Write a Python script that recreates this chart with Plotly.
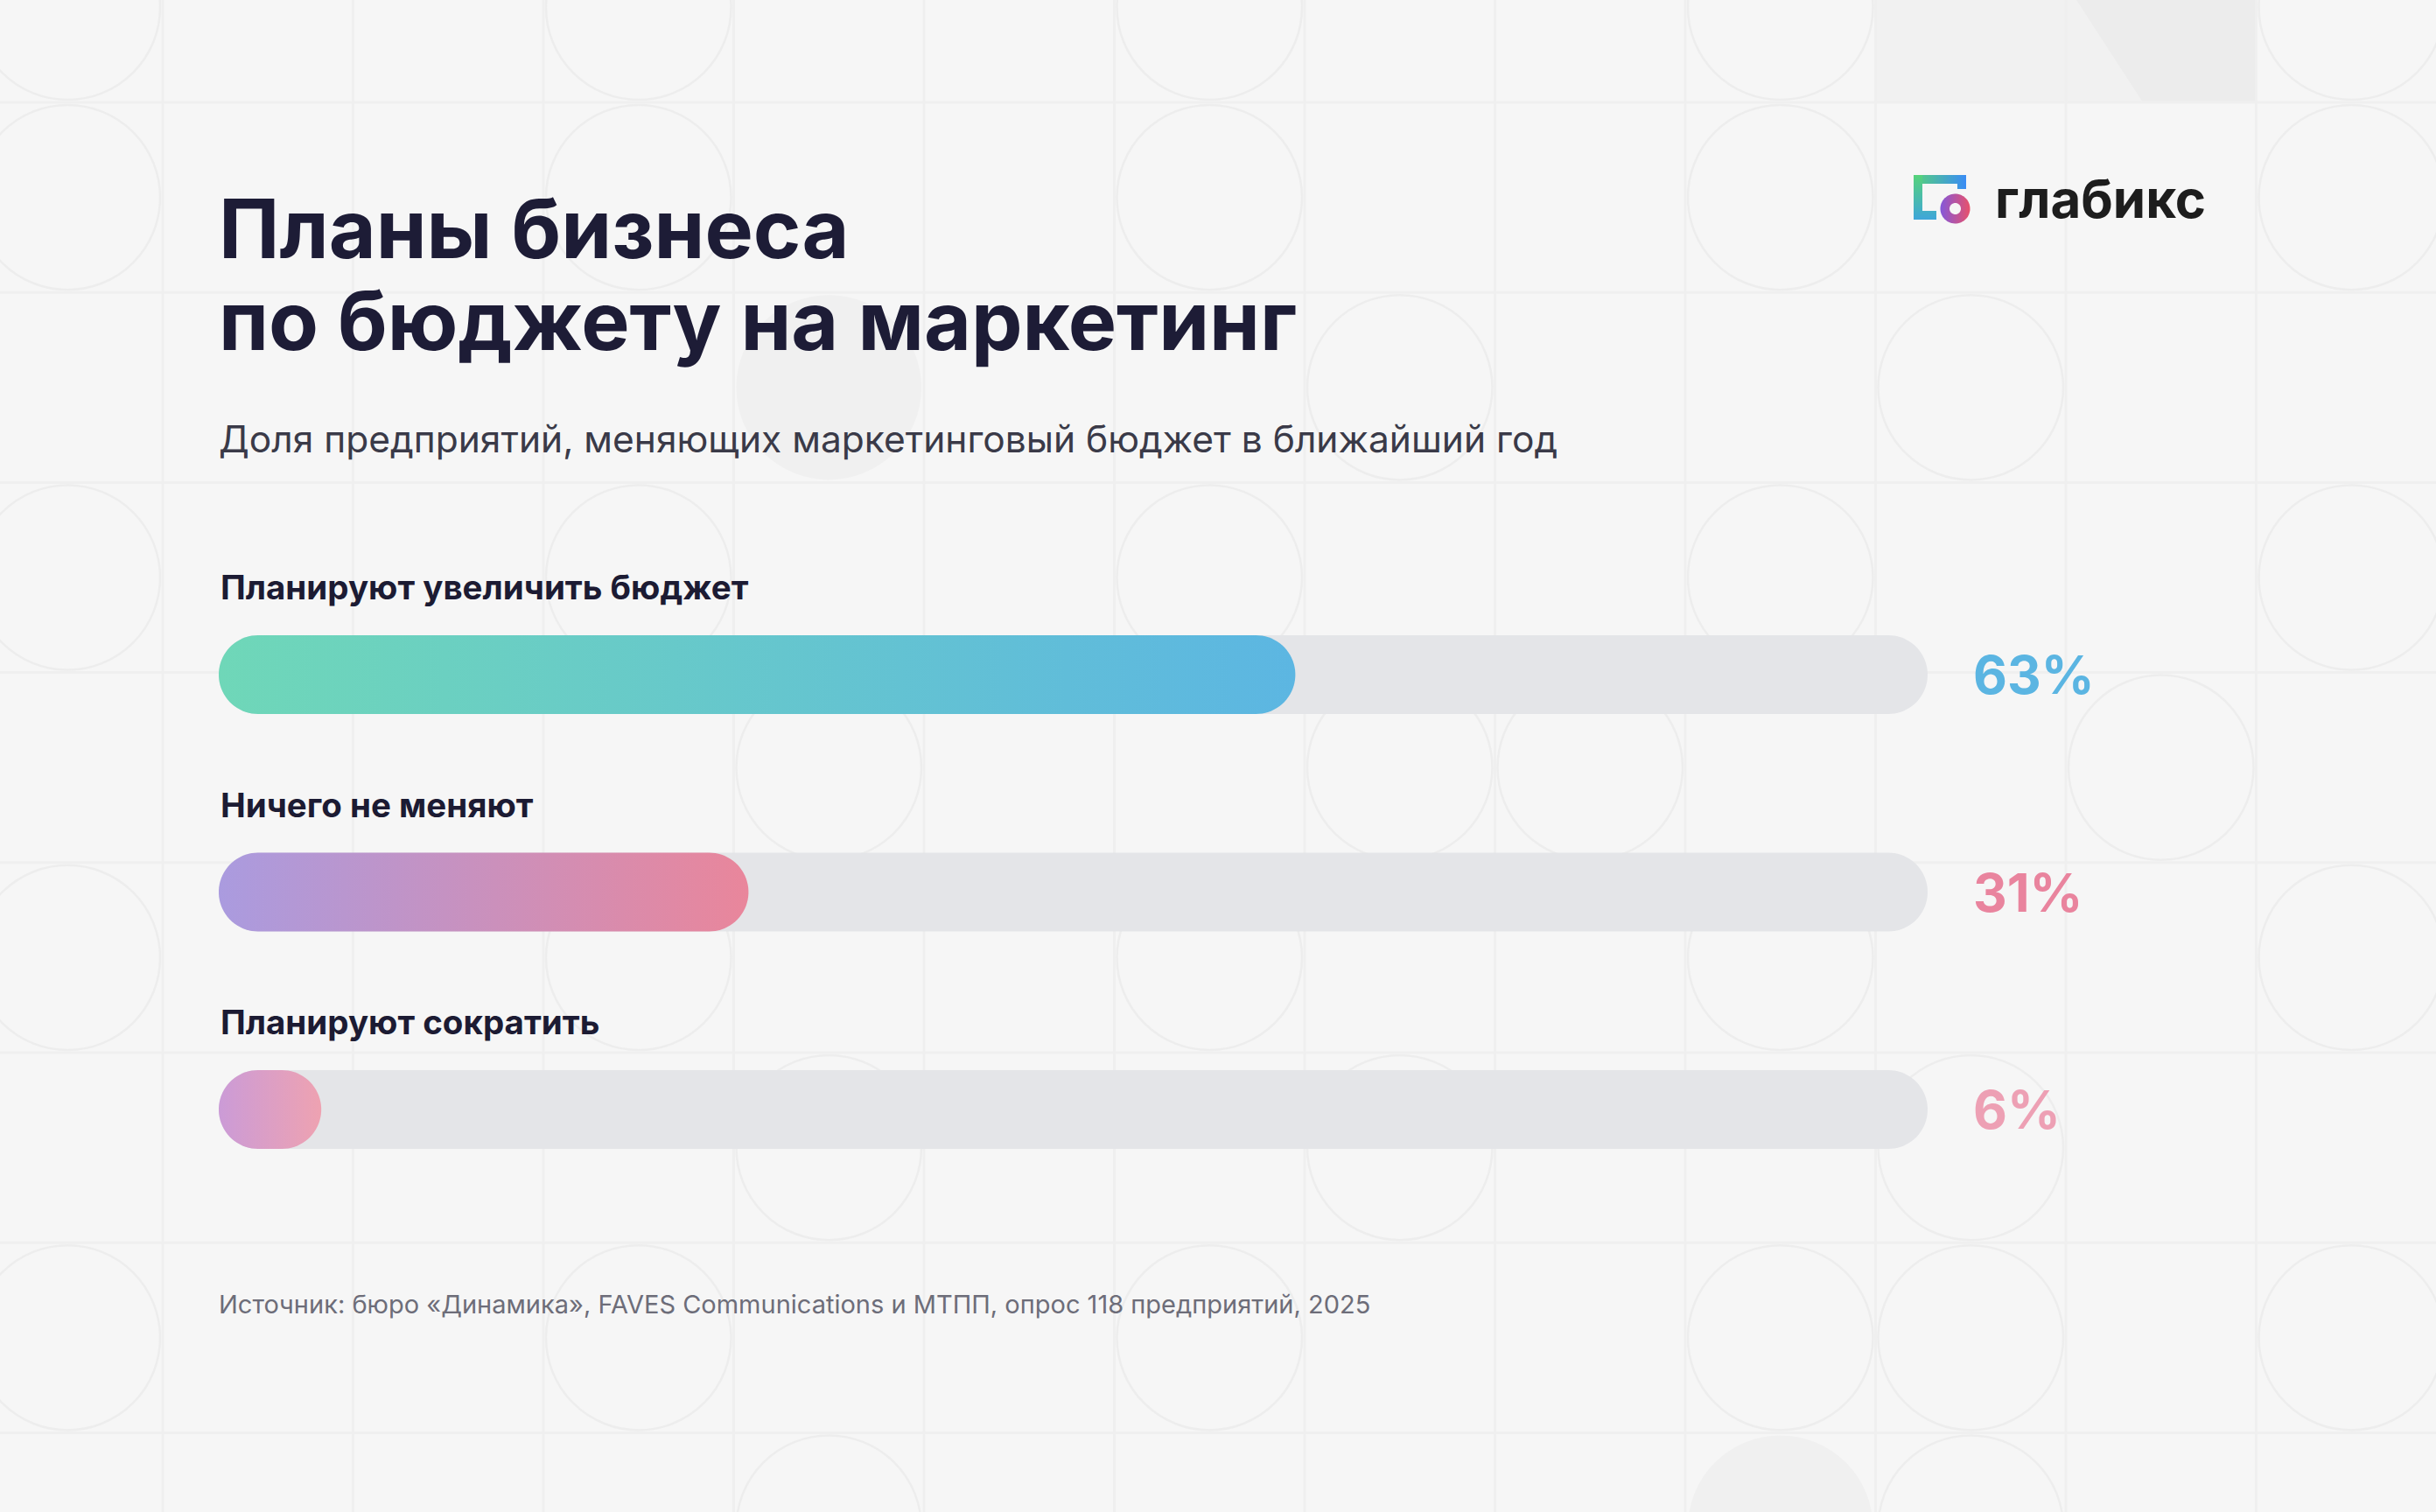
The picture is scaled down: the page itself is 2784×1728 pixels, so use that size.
import numpy as np
import plotly.graph_objects as go

# ---------------- data ----------------
categories = ["Планируют увеличить бюджет", "Ничего не меняют", "Планируют сократить"]
values = [63, 31, 6]
value_labels = ["63%", "31%", "6%"]
grad_start = ["#6fd7b8", "#aa9bdf", "#cb9bd7"]
grad_end = ["#5cb6e2", "#e9869b", "#eea2b1"]
pct_colors = ["#5bb5e2", "#e9849e", "#eda0b4"]

title_lines = ["Планы бизнеса", "по бюджету на маркетинг"]
subtitle = "Доля предприятий, меняющих маркетинговый бюджет в ближайший год"
source = "Источник: бюро «Динамика», FAVES Communications и МТПП, опрос 118 предприятий, 2025"
brand = "глабикс"

# ---------------- layout geometry ----------------
W, H = 2784, 1728
BG = "#f6f6f6"
TRACK_L, TRACK_R = 250, 2203
ROW0, PITCH = 771, 248.5
BAR_H = 90
FONT = "Inter"

px_per_x = (TRACK_R - TRACK_L) / 100.0
x_range = [-TRACK_L / px_per_x, (W - TRACK_L) / px_per_x]
y_range = [(H - ROW0) / PITCH, -ROW0 / PITCH]


def capsule(v, row):
    r = BAR_H / 2
    rx = r / px_per_x
    ry = r / PITCH
    t1 = np.linspace(-np.pi / 2, np.pi / 2, 40)
    t2 = np.linspace(np.pi / 2, 3 * np.pi / 2, 40)
    xs = np.concatenate([(v - rx) + rx * np.cos(t1), rx + rx * np.cos(t2)])
    ys = np.concatenate([row + ry * np.sin(t1), row + ry * np.sin(t2)])
    return np.append(xs, xs[0]), np.append(ys, ys[0])


fig = go.Figure()

# tracks
for i, cat in enumerate(categories):
    xs, ys = capsule(100, i)
    fig.add_trace(go.Scatter(x=xs, y=ys, mode="none", fill="toself",
                             fillcolor="#e4e5e8", hoverinfo="skip", showlegend=False))
# values
for i, (cat, v) in enumerate(zip(categories, values)):
    xs, ys = capsule(v, i)
    fig.add_trace(go.Scatter(
        x=xs, y=ys, mode="none", fill="toself", name=cat,
        fillgradient=dict(type="horizontal", start=0, stop=v,
                          colorscale=[[0, grad_start[i]], [1, grad_end[i]]]),
        hoverinfo="skip", showlegend=False))

# ---------------- logo (pixel-space overlay axes) ----------------
def poly(pts):
    xs = [p[0] for p in pts] + [pts[0][0]]
    ys = [p[1] for p in pts] + [pts[0][1]]
    return xs, ys


def disk(cx, cy, r, n=60):
    t = np.linspace(0, 2 * np.pi, n)
    return cx + r * np.cos(t), cy + r * np.sin(t)


lx, ly = poly([(2187, 200), (2247, 200), (2247, 216), (2237, 216), (2237, 210), (2187, 210)])
fig.add_trace(go.Scatter(x=lx, y=ly, xaxis="x2", yaxis="y2", mode="none", fill="toself",
                         fillgradient=dict(type="horizontal", colorscale=[[0, "#56d27a"], [1, "#3a8cf5"]]),
                         hoverinfo="skip", showlegend=False))
lx, ly = poly([(2187, 200), (2197, 200), (2197, 241), (2213, 241), (2213, 251), (2187, 251)])
fig.add_trace(go.Scatter(x=lx, y=ly, xaxis="x2", yaxis="y2", mode="none", fill="toself",
                         fillgradient=dict(type="vertical", colorscale=[[0, "#3fa6da"], [1, "#56d27a"]]),
                         hoverinfo="skip", showlegend=False))
cx, cy = 2234.5, 238.5
for r, col in [(21, BG), (17, None), (6.5, BG)]:
    dx, dy = disk(cx, cy, r)
    if col:
        fig.add_trace(go.Scatter(x=dx, y=dy, xaxis="x2", yaxis="y2", mode="none", fill="toself",
                                 fillcolor=col, hoverinfo="skip", showlegend=False))
    else:
        fig.add_trace(go.Scatter(x=dx, y=dy, xaxis="x2", yaxis="y2", mode="none", fill="toself",
                                 fillgradient=dict(type="horizontal",
                                                   colorscale=[[0, "#8458da"], [1, "#e8516b"]]),
                                 hoverinfo="skip", showlegend=False))

# ---------------- background decoration (paper coords) ----------------
def px(x):
    return x / W


def py(y):
    return 1 - y / H


shapes = []
LINE = "#efefef"
CIRC = "#ededed"
col_x = [186 + 217.5 * k for k in range(-1, 13)]
row_y = [117 + 217.2 * j for j in range(-1, 9)]


def cell(c, r):
    x0 = 186 + 217.5 * c
    y0 = 117 + 217.2 * r
    return x0, y0, x0 + 217.5, y0 + 217.2


# darker top-right tile
x0, y0, x1, y1 = 2143, 0, 2578, 117
shapes.append(dict(type="rect", xref="paper", yref="paper", x0=px(x0), x1=px(x1), y0=py(y1), y1=py(y0),
                   fillcolor="#f1f1f1", line=dict(width=0), layer="below"))
shapes.append(dict(type="path", xref="paper", yref="paper",
                   path=f"M {px(2373)},{py(0)} L {px(2578)},{py(0)} L {px(2578)},{py(117)} L {px(2449)},{py(117)} Z",
                   fillcolor="#ececec", line=dict(width=0), layer="below"))

filled = [(3, 1), (8, 7)]
outlined = [(-1, -1), (-1, 0), (-1, 2), (-1, 4), (-1, 6),
            (2, -1), (2, 0), (2, 2), (2, 4), (2, 6),
            (5, -1), (5, 0), (5, 2), (5, 4), (5, 6),
            (8, -1), (8, 0), (8, 2), (8, 4), (8, 6),
            (11, -1), (11, 0), (11, 2), (11, 4), (11, 6),
            (3, 3), (3, 5), (3, 7),
            (6, 1), (6, 3), (6, 5),
            (9, 1), (9, 5), (9, 6), (9, 7),
            (7, 3), (10, 3)]
for c, r in filled:
    x0, y0, x1, y1 = cell(c, r)
    shapes.append(dict(type="circle", xref="paper", yref="paper",
                       x0=px(x0 + 3), x1=px(x1 - 3), y0=py(y1 - 3), y1=py(y0 + 3),
                       fillcolor="#f0f0f0", line=dict(width=0), layer="below"))
for c, r in outlined:
    x0, y0, x1, y1 = cell(c, r)
    shapes.append(dict(type="circle", xref="paper", yref="paper",
                       x0=px(x0 + 3), x1=px(x1 - 3), y0=py(y1 - 3), y1=py(y0 + 3),
                       fillcolor="rgba(0,0,0,0)", line=dict(width=2.5, color=CIRC), layer="below"))
for x in col_x:
    shapes.append(dict(type="line", xref="paper", yref="paper", x0=px(x), x1=px(x), y0=0, y1=1,
                       line=dict(width=3, color=LINE), layer="below"))
for y in row_y:
    shapes.append(dict(type="line", xref="paper", yref="paper", x0=0, x1=1, y0=py(y), y1=py(y),
                       line=dict(width=3, color=LINE), layer="below"))

# ---------------- text ----------------
ann = []
ann.append(dict(text=title_lines[0], xref="paper", yref="paper", x=px(248), y=py(261),
                xanchor="left", yanchor="middle", showarrow=False,
                font=dict(family=FONT, size=93, color="#1d1c36", weight=700)))
ann.append(dict(text=title_lines[1], xref="paper", yref="paper", x=px(248), y=py(366),
                xanchor="left", yanchor="middle", showarrow=False,
                font=dict(family=FONT, size=93, color="#1d1c36", weight=700)))
ann.append(dict(text=subtitle, xref="paper", yref="paper", x=px(248), y=py(501),
                xanchor="left", yanchor="middle", showarrow=False,
                font=dict(family=FONT, size=42.5, color="#3a3a48")))
for i, cat in enumerate(categories):
    ann.append(dict(text=cat, xref="x", yref="y", x=0, y=i, yshift=100,
                    xanchor="left", yanchor="middle", showarrow=False,
                    font=dict(family=FONT, size=38.5, color="#1c1b33", weight=700)))
    ann.append(dict(text=value_labels[i], xref="x", yref="y", x=100, y=i, xshift=50,
                    xanchor="left", yanchor="middle", showarrow=False,
                    font=dict(family=FONT, size=60, color=pct_colors[i], weight=700)))
ann.append(dict(text=source, xref="paper", yref="paper", x=px(248), y=py(1490),
                xanchor="left", yanchor="middle", showarrow=False,
                font=dict(family=FONT, size=29, color="#6d6d79")))
ann.append(dict(text=brand, xref="paper", yref="paper", x=px(2278), y=py(227),
                xanchor="left", yanchor="middle", showarrow=False,
                font=dict(family=FONT, size=60, color="#1d1d1d", weight=700)))

fig.update_layout(
    width=W, height=H, autosize=False,
    margin=dict(l=0, r=0, t=0, b=0, pad=0),
    paper_bgcolor=BG, plot_bgcolor="rgba(0,0,0,0)",
    showlegend=False,
    xaxis=dict(range=x_range, visible=False, fixedrange=True, domain=[0, 1]),
    yaxis=dict(range=y_range, visible=False, fixedrange=True, domain=[0, 1]),
    xaxis2=dict(range=[0, W], visible=False, overlaying="x", fixedrange=True),
    yaxis2=dict(range=[H, 0], visible=False, overlaying="y", fixedrange=True),
    shapes=shapes,
    annotations=ann,
)

fig.write_html("out.html")
